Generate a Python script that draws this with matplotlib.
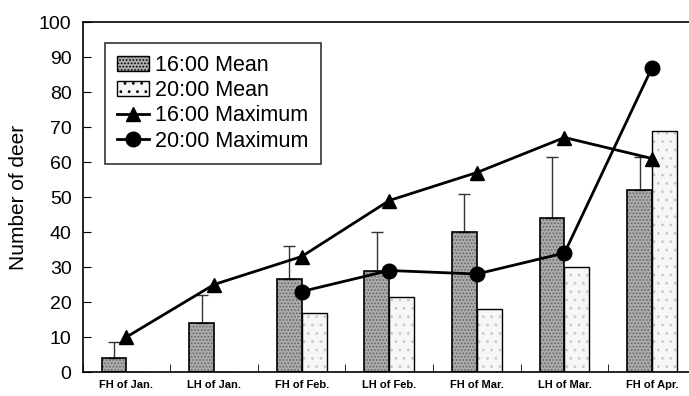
import matplotlib
matplotlib.use('Agg')
import matplotlib.pyplot as plt
from matplotlib.patches import Patch
from matplotlib.lines import Line2D

plt.rcParams['font.family'] = ['Liberation Sans', 'DejaVu Sans']
plt.rcParams['hatch.linewidth'] = 0.8

periods = ['FH of Jan.', 'LH of Jan.', 'FH of Feb.', 'LH of Feb.',
           'FH of Mar.', 'LH of Mar.', 'FH of Apr.']
mean_16 = [4, 14, 26.5, 29, 40, 44, 52]
sd_16 = [4.5, 8, 9.5, 11, 11, 17.5, 9.5]
mean_20 = [0, 0, 17, 21.5, 18, 30, 69]
max_16 = [10, 25, 33, 49, 57, 67, 61]
max_20 = [None, None, 23, 29, 28, 34, 87]

fig = plt.figure(figsize=(6.89, 3.96), dpi=100)
ax = fig.add_axes([0.12, 0.0606, 0.89, 0.8838])

x = list(range(len(periods)))
w = 0.285

x16 = [i - w / 2 for i in x]
x20 = [i + w / 2 for i in x]

# textured fill, then a black outline on top
ax.bar(x16, mean_16, width=w, color='#ababab', edgecolor='#666666',
       hatch='.....', linewidth=0, zorder=2)
ax.bar(x16, mean_16, width=w, fill=False, edgecolor='black', linewidth=1.2, zorder=3)
ax.bar(x20, mean_20, width=w, color='#f6f6f6', edgecolor='#c8c8c8',
       hatch='..', linewidth=0, zorder=2)
ax.bar(x20, mean_20, width=w, fill=False, edgecolor='black', linewidth=1.0, zorder=3)

ax.errorbar(x16, mean_16, yerr=[[0] * len(sd_16), sd_16], fmt='none',
            ecolor='#333333', elinewidth=1, capsize=4, capthick=1, zorder=2.5)

ax.plot(x, max_16, color='black', lw=2, marker='^', ms=10, zorder=5)
xm20 = [i for i, v in zip(x, max_20) if v is not None]
vm20 = [v for v in max_20 if v is not None]
ax.plot(xm20, vm20, color='black', lw=2, marker='o', ms=10.5, zorder=5)

ax.set_xlim(-0.5, 6.5)
ax.set_ylim(0, 100)
ax.set_yticks(range(0, 101, 10))
ax.tick_params(axis='y', direction='in', length=6, labelsize=14, pad=8)
ax.set_xticks(x)
ax.set_xticklabels(periods, fontsize=8, fontweight='bold')
ax.tick_params(axis='x', length=0, pad=6)
ax.set_xticks([i - 0.5 for i in x], minor=True)
ax.tick_params(axis='x', which='minor', direction='in', length=6)
ax.set_ylabel('Number of deer', fontsize=15, labelpad=8)

for s in ax.spines.values():
    s.set_linewidth(1.2)

handles = [
    Patch(facecolor='#ababab', edgecolor='black', hatch='.....', linewidth=1),
    Patch(facecolor='#f6f6f6', edgecolor='black', hatch='..', linewidth=1),
    Line2D([], [], color='black', lw=2, marker='^', ms=10),
    Line2D([], [], color='black', lw=2, marker='o', ms=10.5),
]
labels = ['16:00 Mean', '20:00 Mean', '16:00 Maximum', '20:00 Maximum']
leg = ax.legend(handles, labels, loc='upper left', bbox_to_anchor=(0.036, 0.94),
                borderaxespad=0, fontsize=15.5, fancybox=False, frameon=True,
                edgecolor='black', handlelength=1.5, handletextpad=0.3,
                labelspacing=0.2, borderpad=0.55)
leg.get_frame().set_linewidth(1.2)

fig.savefig('out.png', dpi=100)
